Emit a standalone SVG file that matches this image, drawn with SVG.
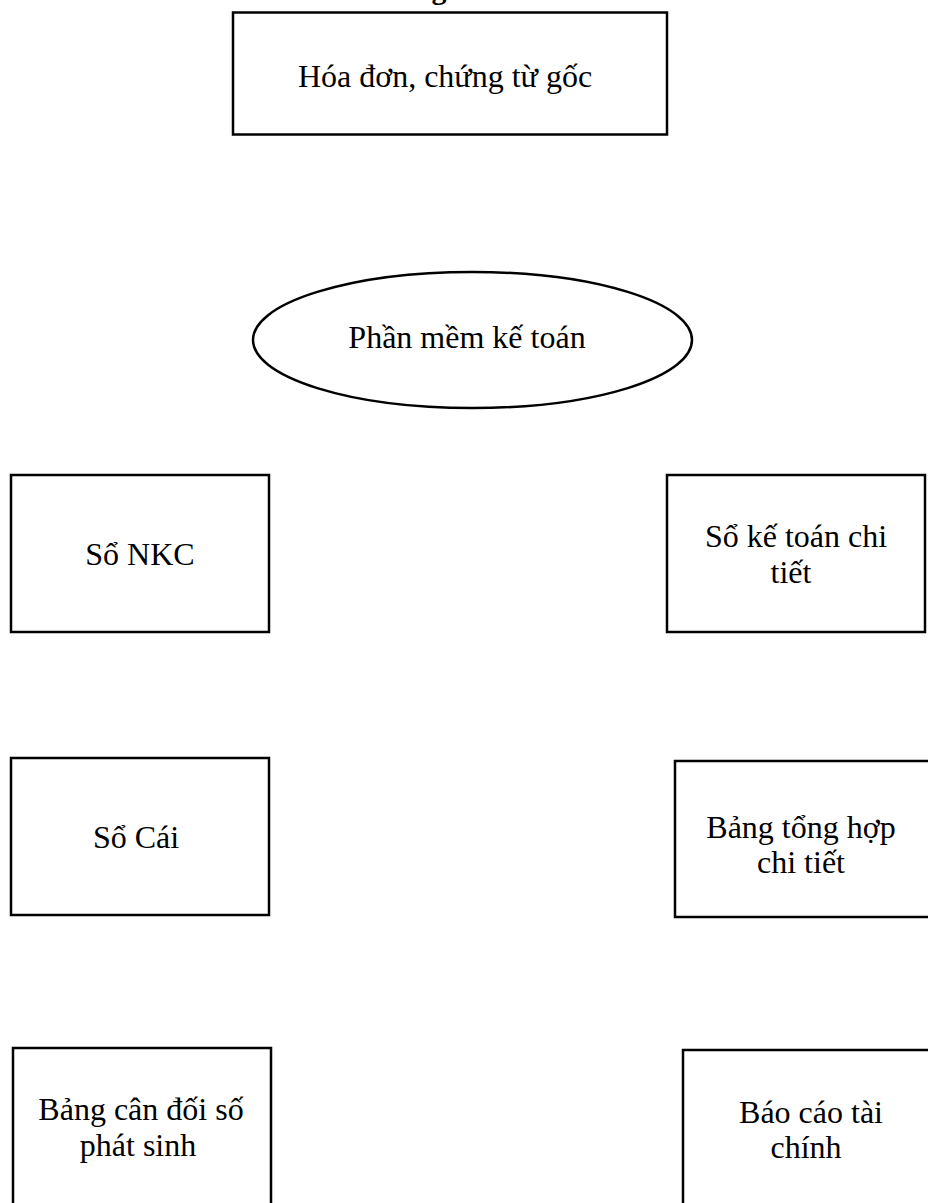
<svg xmlns="http://www.w3.org/2000/svg" width="928" height="1203" viewBox="0 0 928 1203">
<style>
.box{fill:#fff;stroke:#000;stroke-width:2.5}
.t{font-family:"Liberation Serif","Times New Roman",serif;font-size:32px;fill:#000;text-anchor:middle}
.title{font-family:"Liberation Serif","Times New Roman",serif;font-size:30px;font-weight:bold;fill:#000;text-anchor:middle}
</style>
<rect width="928" height="1203" fill="#fff"/>
<text class="title" x="439" y="-1">g</text>
<g id="connectors"></g>
<g id="hoadon">
<rect class="box" x="233" y="12.5" width="434" height="122"/>
<text class="t" x="445" y="87">Hóa đơn, chứng từ gốc</text>
</g>
<g id="phanmem">
<ellipse class="box" cx="472.5" cy="340" rx="219.5" ry="68"/>
<text class="t" x="467" y="348">Phần mềm kế toán</text>
</g>
<g id="sonkc">
<rect class="box" x="11" y="475" width="258" height="157"/>
<text class="t" x="140" y="565">Sổ NKC</text>
</g>
<g id="sochitiet">
<rect class="box" x="667" y="475" width="258" height="157"/>
<text class="t" x="796" y="547">Sổ kế toán chi</text>
<text class="t" x="791" y="583">tiết</text>
</g>
<g id="socai">
<rect class="box" x="11" y="758" width="258" height="157"/>
<text class="t" x="136" y="848">Sổ Cái</text>
</g>
<g id="bangtonghop">
<rect class="box" x="675" y="761" width="262" height="156"/>
<text class="t" x="801" y="838">Bảng tổng hợp</text>
<text class="t" x="801" y="873">chi tiết</text>
</g>
<g id="bangcandoi">
<rect class="box" x="13" y="1048" width="258" height="170"/>
<text class="t" x="141" y="1120">Bảng cân đối số</text>
<text class="t" x="138" y="1156">phát sinh</text>
</g>
<g id="baocao">
<rect class="box" x="683" y="1050" width="262" height="170"/>
<text class="t" x="811" y="1123">Báo cáo tài</text>
<text class="t" x="806" y="1158">chính</text>
</g>
</svg>
